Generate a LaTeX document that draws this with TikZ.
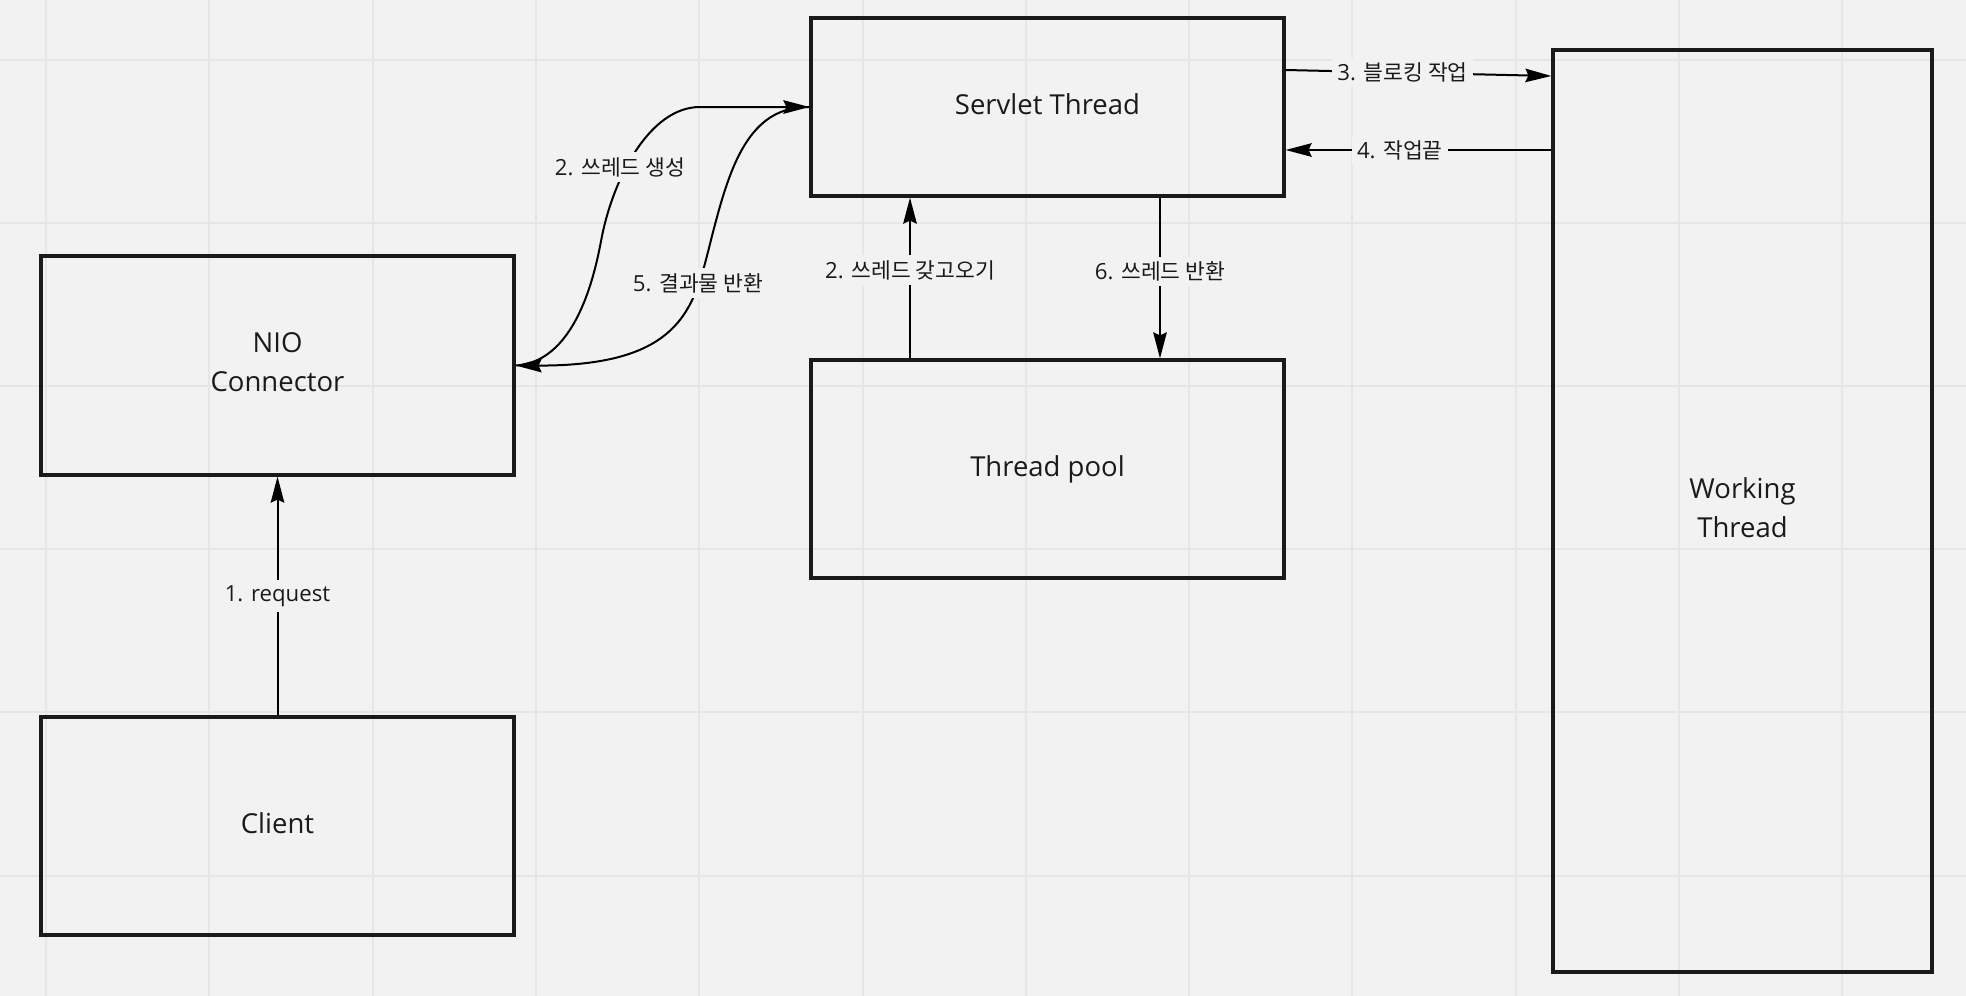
\documentclass[tikz,border=0pt]{standalone}
\usepackage{fontspec}
\setmainfont{Open Sans}
\newfontfamily\kr[Scale=0.97]{Noto Sans CJK KR}
\usetikzlibrary{arrows.meta,calc}
\definecolor{bg}{HTML}{F2F2F2}
\definecolor{gridc}{HTML}{E6E6E6}
\definecolor{ink}{HTML}{1A1A1A}
\begin{document}
\begin{tikzpicture}[x=1pt,y=-1pt,
  box/.style={draw=ink, line width=3.2pt, align=center, text=ink, inner sep=0pt,
    text depth=6.6pt, font=\fontsize{27.5}{38.5}\selectfont},
  conn/.style={draw=black, line width=2pt, -{Stealth[length=26pt,width=13.5pt,inset=3pt]}},
  lbl/.style={fill=bg, inner sep=5pt, text=ink, font=\fontsize{22.2}{27}\selectfont}
]
\useasboundingbox (0,0) rectangle (1966,996);
\fill[bg] (0,0) rectangle (1966,996);
\foreach \i in {0,...,11} \draw[gridc, line width=2pt] (46+163.3*\i,0) -- (46+163.3*\i,996);
\foreach \i in {0,...,5} \draw[gridc, line width=2pt] (0,60+163.1*\i) -- (1966,60+163.1*\i);

\node[box, minimum width=473pt, minimum height=219pt] (nio) at (277.5,365.5) {NIO\\Connector};
\node[box, minimum width=473pt, minimum height=218pt] (client) at (277.5,826) {Client};
\node[box, minimum width=473pt, minimum height=178pt] (servlet) at (1047.5,107) {Servlet Thread};
\node[box, minimum width=473pt, minimum height=218pt] (pool) at (1047.5,469) {Thread pool};
\node[box, minimum width=379pt, minimum height=922pt] (wt) at (1742.5,511) {Working\\Thread};

\draw[conn] (client.north) -- (nio.south) node[lbl, pos=0.5] (l1) {1. request};
\draw[conn] (pool.north -| 910,0) -- (servlet.south -| 910,0) node[lbl, pos=0.55] (l2g) {2. {\kr 쓰레드 갖고오기}};
\draw[conn] (servlet.south -| 1160,0) -- (pool.north -| 1160,0) node[lbl, pos=0.46] (l6) {6. {\kr 쓰레드 반환}};
\draw[conn] (servlet.east |- 0,70) -- (wt.west |- 0,76) node[lbl, pos=0.44] (l3) {3. {\kr 블로킹 작업}};
\draw[conn] (wt.west |- 0,150) -- (servlet.east |- 0,150) node[lbl, pos=0.57] (l4) {4. {\kr 작업끝}};

\coordinate (m2) at (602,236);
\coordinate (m5) at (712,236);
\draw[conn] (nio.east) .. controls (580,362) and (597,262) .. (m2)
  .. controls (614,177) and (650,107) .. (700,107) -- (servlet.west);
\draw[conn] (servlet.west) .. controls (748,106) and (729.5,168) .. (m5)
  .. controls (694.5,304) and (687,366) .. (nio.east);
\node[lbl] (l2) at (620,167) {2. {\kr 쓰레드 생성}};
\node[lbl] (l5) at (698,283) {5. {\kr 결과물 반환}};
\end{tikzpicture}
\end{document}
